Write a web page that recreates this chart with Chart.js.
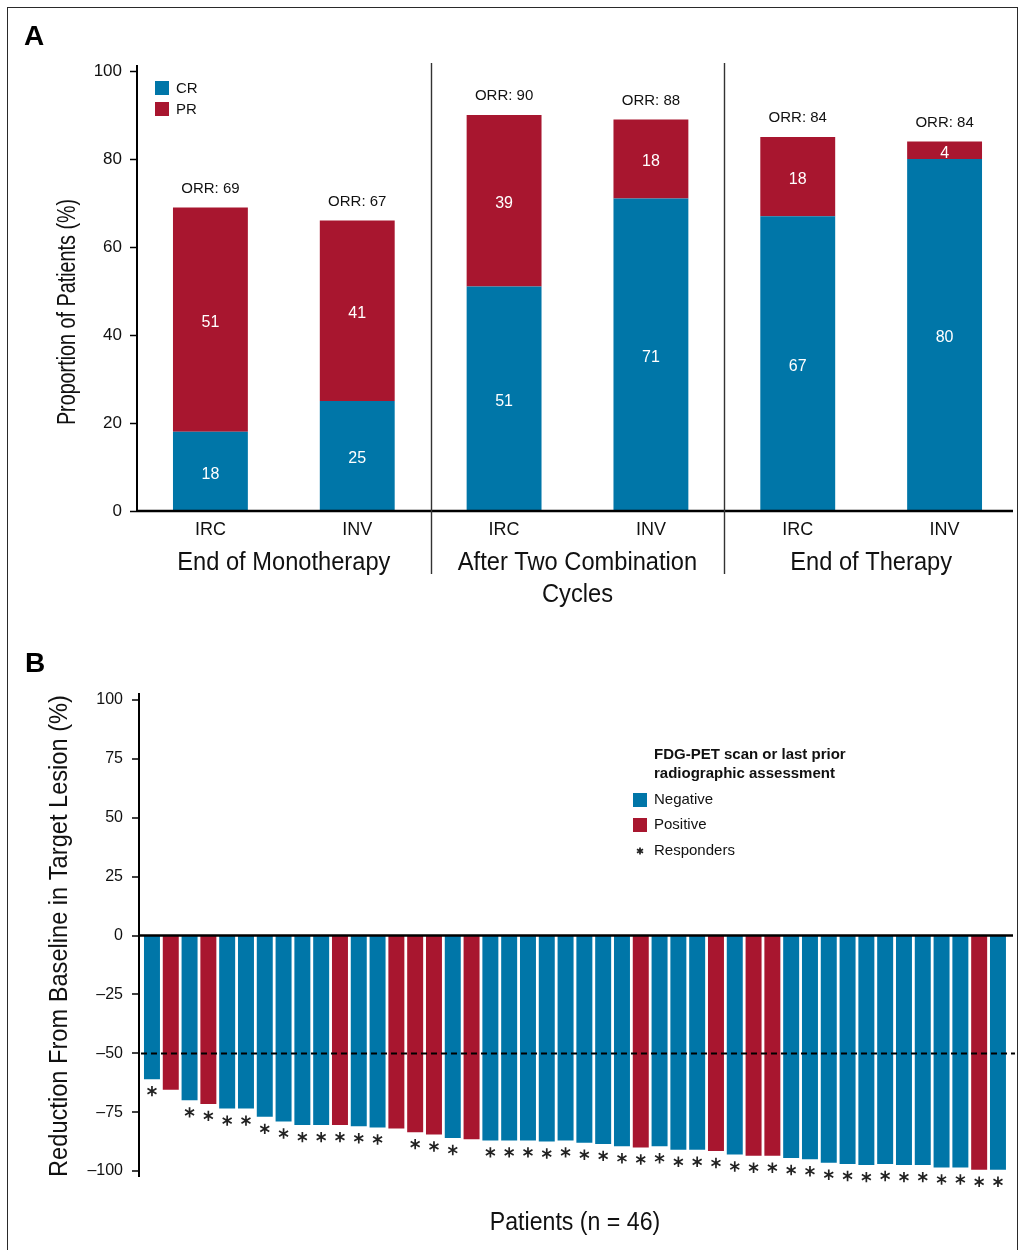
<!DOCTYPE html>
<html>
<head>
<meta charset="utf-8">
<script src="https://cdn.jsdelivr.net/npm/chart.js@4.4.1/dist/chart.umd.min.js"></script>
<style>
  html, body { margin: 0; padding: 0; background: #fff; }
  body { width: 1018px; height: 1250px; position: relative; overflow: hidden; }
  #frame { position: absolute; left: 7px; top: 7px; width: 1011px; height: 1300px;
           border: 1.5px solid #2a2a2a; box-sizing: border-box; }
  #wrapA { position: absolute; left: 0; top: 0; width: 1018px; height: 620px; }
  #wrapB { position: absolute; left: 0; top: 620px; width: 1018px; height: 630px; }
  canvas { display: block; }
</style>
</head>
<body>
<div id="frame"></div>
<div id="wrapA"><canvas id="chartA" width="1018" height="620"></canvas></div>
<div id="wrapB"><canvas id="chartB" width="1018" height="630"></canvas></div>

<script>
// ---- Panel A: response rates by assessment ----
const assessors = ['IRC', 'INV', 'IRC', 'INV', 'IRC', 'INV'];
const timepoints = [['End of Monotherapy'], ['After Two Combination', 'Cycles'], ['End of Therapy']];
const crRates = [18, 25, 51, 71, 67, 80];
const prRates = [51, 41, 39, 18, 18, 4];
const orrRates = [69, 67, 90, 88, 84, 84];
const percentTicksA = [0, 20, 40, 60, 80, 100];

// ---- Panel B: best change from baseline per patient ----
const patientReduction = [
  -61, -65.5, -70, -71.5, -73.5, -73.5, -77, -79, -80.5, -80.5,
  -80.5, -81, -81.5, -82, -83.5, -84.5, -86, -86.5, -87, -87,
  -87, -87.5, -87, -88, -88.5, -89.5, -90, -89.5, -91, -91,
  -91.5, -93, -93.5, -93.5, -94.5, -95, -96.5, -97, -97.5, -97,
  -97.5, -97.5, -98.5, -98.5, -99.5, -99.5
];
const petResult = [
  'neg', 'pos', 'neg', 'pos', 'neg', 'neg', 'neg', 'neg', 'neg', 'neg',
  'pos', 'neg', 'neg', 'pos', 'pos', 'pos', 'neg', 'pos', 'neg', 'neg',
  'neg', 'neg', 'neg', 'neg', 'neg', 'neg', 'pos', 'neg', 'neg', 'neg',
  'pos', 'neg', 'pos', 'pos', 'neg', 'neg', 'neg', 'neg', 'neg', 'neg',
  'neg', 'neg', 'neg', 'neg', 'pos', 'neg'
];
const responder = [
  1, 0, 1, 1, 1, 1, 1, 1, 1, 1,
  1, 1, 1, 0, 1, 1, 1, 0, 1, 1,
  1, 1, 1, 1, 1, 1, 1, 1, 1, 1,
  1, 1, 1, 1, 1, 1, 1, 1, 1, 1,
  1, 1, 1, 1, 1, 1
];
const reductionTicks = [-100, -75, -50, -25, 0, 25, 50, 75, 100];
const responseThreshold = -50;

const BLUE = '#0076a8';
const RED = '#a8162f';
const INK = '#111111';
const FONT = '"Liberation Sans", Arial, Helvetica, sans-serif';

// titles use a horizontally squeezed face
function narrowText(ctx, text, x, y, size, sx, rotate) {
  ctx.save();
  ctx.translate(x, y);
  if (rotate) ctx.rotate(-Math.PI / 2);
  ctx.scale(sx, 1);
  ctx.font = `${size}px ${FONT}`;
  ctx.fillStyle = INK;
  ctx.textAlign = 'center';
  ctx.textBaseline = 'middle';
  ctx.fillText(text, 0, 0);
  ctx.restore();
}

function plainText(ctx, text, x, y, font, color, align) {
  ctx.save();
  ctx.font = font;
  ctx.fillStyle = color;
  ctx.textAlign = align || 'center';
  ctx.textBaseline = 'middle';
  ctx.fillText(text, x, y);
  ctx.restore();
}

function asterisk(ctx, x, y, r) {
  ctx.save();
  ctx.strokeStyle = '#222';
  ctx.lineWidth = 1.7;
  ctx.beginPath();
  for (let k = 0; k < 3; k++) {
    const a = Math.PI / 2 + k * Math.PI / 3;
    ctx.moveTo(x - r * Math.cos(a), y - r * Math.sin(a));
    ctx.lineTo(x + r * Math.cos(a), y + r * Math.sin(a));
  }
  ctx.stroke();
  ctx.restore();
}

function vline(ctx, x, y0, y1, w) {
  ctx.save();
  ctx.strokeStyle = '#000';
  ctx.lineWidth = w;
  ctx.beginPath();
  ctx.moveTo(x, y0);
  ctx.lineTo(x, y1);
  ctx.stroke();
  ctx.restore();
}

// ---------- Chart A ----------
const panelAPlugin = {
  id: 'panelA',
  afterDatasetsDraw(chart) {
    const ctx = chart.ctx;
    const xs = chart.scales.x;
    const area = chart.chartArea;

    // baseline of the stacked bars and the axis top extension
    ctx.save();
    ctx.strokeStyle = '#000';
    ctx.lineWidth = 2.5;
    ctx.beginPath();
    ctx.moveTo(area.left - 1, area.bottom);
    ctx.lineTo(1013, area.bottom);
    ctx.stroke();
    ctx.restore();
    vline(ctx, area.left, 65, area.top + 1, 2);

    // values inside the segments
    chart.data.datasets.forEach((ds, di) => {
      chart.getDatasetMeta(di).data.forEach((el, i) => {
        plainText(ctx, String(ds.data[i]), el.x, (el.y + el.base) / 2 + 3,
          `16px ${FONT}`, '#ffffff');
      });
    });

    // ORR above each bar
    chart.getDatasetMeta(1).data.forEach((el, i) => {
      plainText(ctx, 'ORR: ' + orrRates[i], el.x, el.y - 19, `15px ${FONT}`, INK);
    });

    // separators between the three time points
    ctx.save();
    ctx.strokeStyle = '#333';
    ctx.lineWidth = 1.4;
    [1.5, 3.5].forEach(v => {
      const px = Math.round(xs.getPixelForValue(v)) + 0.5;
      ctx.beginPath();
      ctx.moveTo(px, 63);
      ctx.lineTo(px, 574);
      ctx.stroke();
    });
    ctx.restore();

    // time point labels
    timepoints.forEach((lines, g) => {
      const cx = (xs.getPixelForValue(2 * g) + xs.getPixelForValue(2 * g + 1)) / 2;
      lines.forEach((line, j) => narrowText(ctx, line, cx, 563 + j * 32, 26, 0.91));
    });

    // y title and panel letter
    narrowText(ctx, 'Proportion of Patients (%)', 68, 312, 26, 0.76, true);
    plainText(ctx, 'A', 24, 37, `bold 28px ${FONT}`, '#000', 'left');

    // legend
    ctx.save();
    ctx.fillStyle = BLUE; ctx.fillRect(155, 81, 14, 14);
    ctx.fillStyle = RED;  ctx.fillRect(155, 102, 14, 14);
    ctx.restore();
    plainText(ctx, 'CR', 176, 88.5, `15px ${FONT}`, INK, 'left');
    plainText(ctx, 'PR', 176, 109.5, `15px ${FONT}`, INK, 'left');
  }
};

new Chart(document.getElementById('chartA'), {
  type: 'bar',
  data: {
    labels: assessors,
    datasets: [
      { label: 'CR', data: crRates, backgroundColor: BLUE },
      { label: 'PR', data: prRates, backgroundColor: RED }
    ]
  },
  options: {
    responsive: false,
    animation: false,
    devicePixelRatio: 1,
    layout: { padding: { top: 71, right: 0, left: 0, bottom: 0 } },
    datasets: { bar: { categoryPercentage: 1, barPercentage: 0.51 } },
    plugins: { legend: { display: false }, tooltip: { enabled: false } },
    scales: {
      x: {
        stacked: true,
        grid: { display: false, drawTicks: false },
        border: { display: false },
        ticks: { color: INK, font: { family: FONT, size: 18 }, padding: 8 },
        afterFit(s) { s.height = 109; }
      },
      y: {
        stacked: true,
        min: 0, max: 100,
        afterBuildTicks(s) { s.ticks = percentTicksA.map(v => ({ value: v })); },
        grid: { drawOnChartArea: false, drawTicks: true, tickLength: 7, tickColor: '#000', tickWidth: 1.5 },
        border: { display: true, color: '#000', width: 2 },
        ticks: { color: INK, font: { family: FONT, size: 17 }, padding: 8 },
        afterFit(s) { s.width = 137; }
      }
    }
  },
  plugins: [panelAPlugin]
});

// ---------- Chart B ----------
const panelBPlugin = {
  id: 'panelB',
  afterDatasetsDraw(chart) {
    const ctx = chart.ctx;
    const ys = chart.scales.y;
    const area = chart.chartArea;

    // axis runs a little past the end ticks
    vline(ctx, area.left, 73, area.top + 1, 2);
    vline(ctx, area.left, area.bottom - 1, 557, 2);

    // response threshold line
    const py = Math.round(ys.getPixelForValue(responseThreshold)) + 0.5;
    ctx.save();
    ctx.strokeStyle = '#000';
    ctx.lineWidth = 2;
    ctx.setLineDash([6, 4]);
    ctx.beginPath();
    ctx.moveTo(area.left + 2, py);
    ctx.lineTo(1015, py);
    ctx.stroke();
    ctx.restore();

    // zero line reaches slightly past the last bar
    const zy = ys.getPixelForValue(0);
    ctx.save();
    ctx.strokeStyle = '#000';
    ctx.lineWidth = 2.5;
    ctx.beginPath();
    ctx.moveTo(area.left, zy);
    ctx.lineTo(1013, zy);
    ctx.stroke();
    ctx.restore();

    // responders marked below their bars
    chart.getDatasetMeta(0).data.forEach((el, i) => {
      if (responder[i]) asterisk(ctx, el.x, el.y + 12, 5.2);
    });

    // titles, panel letter
    narrowText(ctx, 'Reduction From Baseline in Target Lesion (%)', 60, 316, 25, 0.945, true);
    narrowText(ctx, 'Patients (n = 46)', 575, 603, 26, 0.89);
    plainText(ctx, 'B', 25, 44, `bold 28px ${FONT}`, '#000', 'left');

    // legend
    plainText(ctx, 'FDG-PET scan or last prior', 654, 135, `bold 15px ${FONT}`, INK, 'left');
    plainText(ctx, 'radiographic assessment', 654, 154, `bold 15px ${FONT}`, INK, 'left');
    ctx.save();
    ctx.fillStyle = BLUE; ctx.fillRect(633, 173, 14, 14);
    ctx.fillStyle = RED;  ctx.fillRect(633, 198, 14, 14);
    ctx.restore();
    plainText(ctx, 'Negative', 654, 180, `15px ${FONT}`, INK, 'left');
    plainText(ctx, 'Positive', 654, 205, `15px ${FONT}`, INK, 'left');
    asterisk(ctx, 640, 231, 3.5);
    plainText(ctx, 'Responders', 654, 231, `15px ${FONT}`, INK, 'left');
  }
};

new Chart(document.getElementById('chartB'), {
  type: 'bar',
  data: {
    datasets: [{
      label: 'Reduction',
      data: patientReduction.map((v, i) => ({ x: i + 1, y: v })),
      backgroundColor: petResult.map(r => r === 'pos' ? RED : BLUE)
    }]
  },
  options: {
    responsive: false,
    animation: false,
    devicePixelRatio: 1,
    layout: { padding: { top: 80, right: 8, left: 0, bottom: 79 } },
    datasets: { bar: { categoryPercentage: 1, barPercentage: 0.85 } },
    plugins: { legend: { display: false }, tooltip: { enabled: false } },
    scales: {
      x: { type: 'linear', offset: false, min: 0.31, max: 46.64, display: false },
      y: {
        min: -100, max: 100,
        afterBuildTicks(s) { s.ticks = reductionTicks.map(v => ({ value: v })); },
        grid: {
          drawTicks: true, tickLength: 7, tickColor: '#000', tickWidth: 1.5,
          color: 'rgba(0,0,0,0)', lineWidth: 0
        },
        border: { display: true, color: '#000', width: 2 },
        ticks: {
          color: INK, font: { family: FONT, size: 16 }, padding: 9,
          callback: v => v < 0 ? '\u2013' + Math.abs(v) : String(v)
        },
        afterFit(s) { s.width = 139; }
      }
    }
  },
  plugins: [panelBPlugin]
});
</script>
</body>
</html>
